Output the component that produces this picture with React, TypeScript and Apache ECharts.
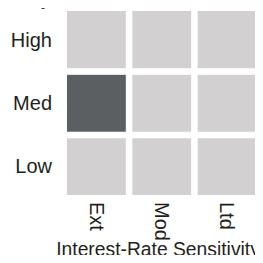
import React, { useEffect, useRef } from "react";
import * as echarts from "echarts";

const xCategories = ["Ext", "Mod", "Ltd"];
const yCategories = ["Low", "Med", "High"];
// [xIndex, yIndex, value] : 1 = highlighted style box
const cellValues: [number, number, number][] = [
  [0, 0, 0], [1, 0, 0], [2, 0, 0],
  [0, 1, 1], [1, 1, 0], [2, 1, 0],
  [0, 2, 0], [1, 2, 0], [2, 2, 0],
];
const xAxisTitle = "Interest-Rate Sensitivity";
const topTitle = "Credit Quality";

const FONT = "Liberation Sans, Arial, sans-serif";

export default function App() {
  const ref = useRef<HTMLDivElement>(null);
  useEffect(() => {
    if (!ref.current) return;
    const chart = echarts.init(ref.current, undefined, { renderer: "svg" });
    chart.setOption({
      animation: false,
      grid: {
        left: 64,
        right: 3,
        top: 8,
        bottom: 65,
        containLabel: false,
        outerBoundsMode: "none",
      },
      visualMap: {
        show: false,
        type: "piecewise",
        dimension: 2,
        seriesIndex: 0,
        pieces: [
          { value: 0, color: "#d2d0d1" },
          { value: 1, color: "#5c5f62" },
        ],
      },
      xAxis: {
        type: "category",
        data: xCategories,
        axisLine: { show: false },
        axisTick: { show: false },
        splitLine: { show: false },
        axisLabel: {
          rotate: -90,
          margin: 4,
          fontSize: 20,
          fontFamily: FONT,
          color: "#231f20",
        },
        name: xAxisTitle,
        nameLocation: "middle",
        nameGap: 42,
        nameMoveOverlap: false,
        nameTextStyle: {
          fontSize: 19.3,
          fontFamily: FONT,
          color: "#231f20",
          padding: [0, 8, 0, 0],
        },
      },
      yAxis: {
        type: "category",
        data: yCategories,
        axisLine: { show: false },
        axisTick: { show: false },
        splitLine: { show: false },
        axisLabel: {
          margin: 12,
          fontSize: 20,
          fontFamily: FONT,
          color: "#231f20",
        },
      },
      graphic: [
        {
          type: "text",
          x: 51,
          y: -2,
          z: 100,
          style: {
            text: topTitle,
            fontSize: 20,
            fontFamily: FONT,
            fill: "#231f20",
            align: "right",
            verticalAlign: "middle",
          },
        },
      ],
      series: [
        {
          type: "heatmap",
          data: cellValues,
          itemStyle: { borderColor: "#ffffff", borderWidth: 6.5 },
          emphasis: { disabled: true },
          label: { show: false },
        },
      ],
    });
    return () => chart.dispose();
  }, []);
  return (
    <div style={{ position: "relative", width: 263, height: 263, margin: -8 }}>
      <div ref={ref} style={{ width: 263, height: 263 }} />
      <div
        style={{
          position: "absolute",
          left: 0,
          top: 2,
          width: 45,
          height: 1,
          background: "#666",
        }}
      />
      <div
        style={{
          position: "absolute",
          left: 55,
          top: 259,
          width: 208,
          height: 1,
          background: "#a0a0a0",
        }}
      />
    </div>
  );
}
